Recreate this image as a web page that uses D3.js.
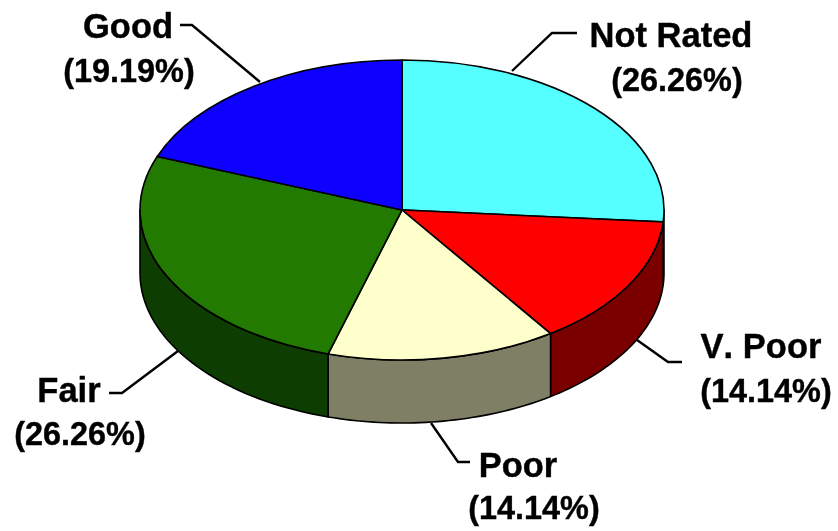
<!DOCTYPE html>
<html><head><meta charset="utf-8">
<script src="https://cdnjs.cloudflare.com/ajax/libs/d3/7.8.5/d3.min.js"></script>
<style>html,body{margin:0;background:#fff}svg{display:block}text{font-family:"Liberation Sans",Arial,sans-serif;font-weight:700;fill:#000;stroke:#000;stroke-width:.4px;text-anchor:middle;font-kerning:none}.n{font-size:34.5px}.p{font-size:32.4px}</style>
</head><body><svg id="c" width="838" height="531"></svg>
<script>
const categories=["Not Rated","V. Poor","Poor","Fair","Good"];
const values=[26.26,14.14,14.14,26.26,19.19];
const pctLabels=["(26.26%)","(14.14%)","(14.14%)","(26.26%)","(19.19%)"];
const topColors=["#55ffff","#ff0000","#ffffcc","#217a00","#0a00ff"];
const sideColors=["#2a8080","#7a0000","#7f7f66","#0a3c00","#0a0a80"];

const W=838,H=531,cx=402,cy=210,rx=262,ry=150,depth=63;
const svg=d3.select("#c");
const defs=svg.append("defs");
defs.append("filter").attr("id","soft").append("feGaussianBlur").attr("stdDeviation",0.7);
const g=svg.append("g").attr("filter","url(#soft)");

const pie=d3.pie().sort(null).value(d=>d);
const arcs=pie(values);
const arcGen=d3.arc().innerRadius(0).outerRadius(rx);
const yScale=ry/rx;

// side walls: the front half of the ellipse extruded downward
const px=a=>cx+rx*Math.sin(a), py=a=>cy-ry*Math.cos(a);
function wall(a0,a1){
  const s=Math.max(a0,Math.PI/2), e=Math.min(a1,Math.PI*1.5);
  if(e<=s) return null;
  const pts=d3.range(0,41).map(i=>s+(e-s)*i/40);
  const upper=pts.map(a=>[px(a),py(a)]);
  const lower=pts.slice().reverse().map(a=>[px(a),py(a)+depth]);
  return d3.line()(upper.concat(lower))+"Z";
}
arcs.forEach((d,i)=>{
  const p=wall(d.startAngle,d.endAngle);
  if(p) g.append("path").attr("d",p).attr("fill",sideColors[i]).attr("stroke","#000").attr("stroke-width",1.6).attr("stroke-linejoin","round");
});
const face=g.append("g").attr("transform",`translate(${cx},${cy}) scale(1,${yScale})`);
face.selectAll("path").data(arcs).join("path")
  .attr("d",arcGen).attr("fill",(d,i)=>topColors[i])
  .attr("stroke","#000").attr("stroke-width",1.6).attr("vector-effect","non-scaling-stroke");

// label layout
const layout=[
 {x1:671,x2:677,y1:47,y2:91,line:[[512,71],[552,33],[577,33]]},
 {x1:761,x2:766,y1:358,y2:402,line:[[637,340],[668,362],[682,362]]},
 {x1:518,x2:534,y1:477,y2:519,line:[[431,423],[458,462],[470,462]]},
 {x1:69,x2:80,y1:402,y2:445,line:[[178,351],[122,393],[109,393]]},
 {x1:128,x2:129,y1:38,y2:82,line:[[260,82],[192,25],[180,25]]}
];
layout.forEach((l,i)=>{
  g.append("path").attr("d",d3.line()(l.line)).attr("fill","none").attr("stroke","#000").attr("stroke-width",2.4);
  g.append("text").attr("class","n").attr("x",l.x1).attr("y",l.y1).text(categories[i]);
  g.append("text").attr("class","p").attr("x",l.x2).attr("y",l.y2).text(pctLabels[i]);
});
</script></body></html>
